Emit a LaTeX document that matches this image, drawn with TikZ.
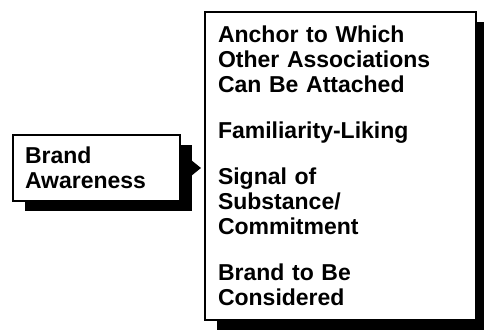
\documentclass[tikz,border=0pt]{standalone}
\usepackage{fontspec}
\setmainfont{Liberation Sans}
\usetikzlibrary{shadows,arrows.meta}
\begin{document}
\begin{tikzpicture}[x=1pt, y=-1pt, line width=2pt, line join=miter,
  caja/.style={draw, fill=white, rectangle, align=left, inner xsep=12pt, inner ysep=0pt,
    font=\fontsize{23}{25}\selectfont\bfseries,
    drop shadow={shadow xshift=12pt, shadow yshift=-10pt, fill=black, opacity=1}}]
  \useasboundingbox (0,0) rectangle (484,332);
  % la caja pequeña de la izquierda
  \node[caja, minimum width=167pt, minimum height=66pt, text width=143pt] (marca) at (96.5,168) {Brand\\Awareness};
  % la caja grande con las cuatro ideas
  \node[caja, minimum width=271pt, minimum height=308pt, text width=245pt, inner xsep=13pt] (valor) at (340.5,166)
    {Anchor to Which\\Other Associations\\Can Be Attached\\[21pt]Familiarity-Liking\\[21pt]Signal of\\Substance/\\Commitment\\[21pt]Brand to Be\\Considered};
  % la flecha negra entre las dos
  \draw[-{Triangle[length=9pt,width=14pt]}, shorten >=3pt] (marca.east) -- (marca.east -| valor.west);
\end{tikzpicture}
\end{document}
